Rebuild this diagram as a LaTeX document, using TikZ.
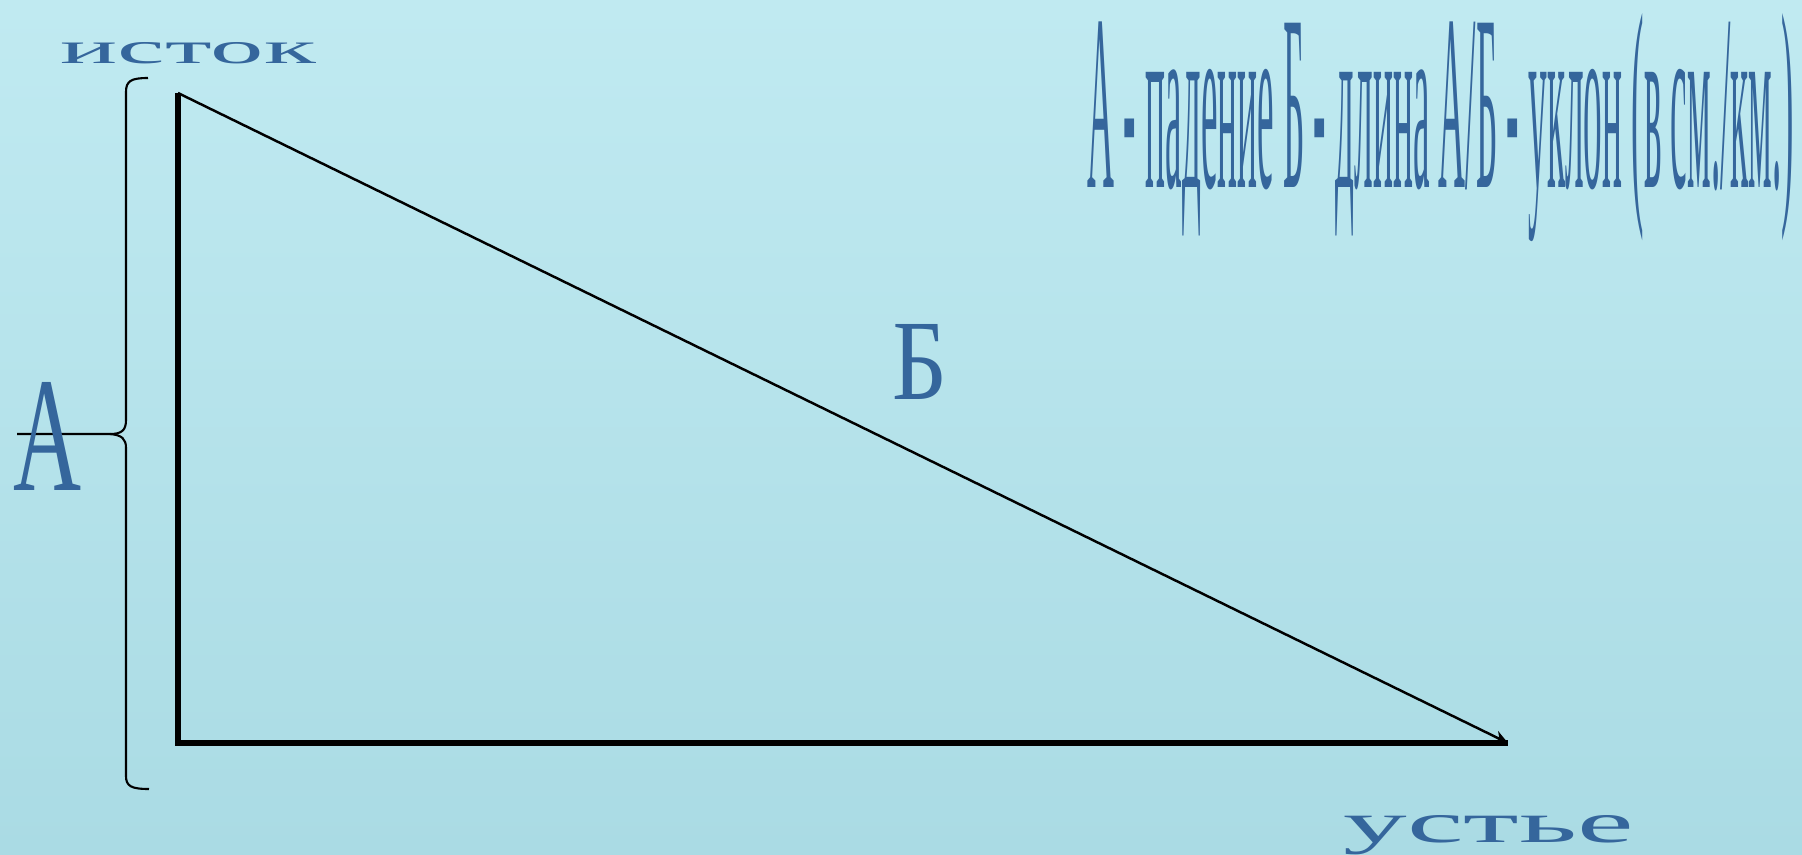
\documentclass[tikz,border=0pt]{standalone}
\usepackage{fontspec}
\setmainfont{Liberation Serif}
\usepackage{graphicx}
\usetikzlibrary{arrows.meta}
\definecolor{water}{HTML}{C0EAF1}
\definecolor{waterdim}{HTML}{AADBE4}
\definecolor{ink}{HTML}{35669C}
\tikzset{
  leg/.style={line width=1.6pt,black,line join=miter},
  slope/.style={-{Stealth[length=4pt,width=3.6pt]},line width=0.7pt,black},
  bracket/.style={line width=0.6pt,black},
  lbl/.style={inner sep=0pt,text=ink}
}

\begin{document}
\begin{tikzpicture}[x=0.01cm,y=-0.01cm]
\shade[top color=water,bottom color=waterdim] (0,0) rectangle (1802,854);
\useasboundingbox (0,0) rectangle (1802,854);
% river profile
\coordinate (src) at (178,93);
\coordinate (corner) at (178,743);
\coordinate (mouth) at (1508,743);
\draw[leg] (src)--(corner)--(mouth);
\draw[slope] (src)--(mouth);
% brace for the fall
\coordinate (btop) at (148,78);
\coordinate (btip) at (17,434);
\coordinate (bbot) at (149,789);
\draw[bracket] (btop) .. controls (131,78) and (126,81) .. (126,92) -- (126,420)
  .. controls (126,430) and (122,434) .. (110,434) -- (btip);
\draw[bracket] (110,434) .. controls (122,435) and (126,439) .. (126,448) -- (126,776)
  .. controls (126,786) and (131,789) .. (bbot);
% labels
\node[lbl,anchor=base west] (istok) at (60,63) {\resizebox{2.55cm}{0.21cm}{исток}};
\node[lbl,anchor=base west] (ustye) at (1343,842) {\resizebox{2.90cm}{0.27cm}{устье}};
\node[lbl,anchor=base west] (fall) at (13,490) {\resizebox{0.68cm}{1.08cm}{А}};
\node[lbl,anchor=base west] (len) at (892,399) {\resizebox{0.55cm}{0.75cm}{Б}};
\node[lbl,anchor=base west] (legend) at (1087,187)
  {\resizebox{7.06cm}{1.74cm}{А - падение Б - длина А/Б - уклон (в см./км.)}};
\end{tikzpicture}
\end{document}
